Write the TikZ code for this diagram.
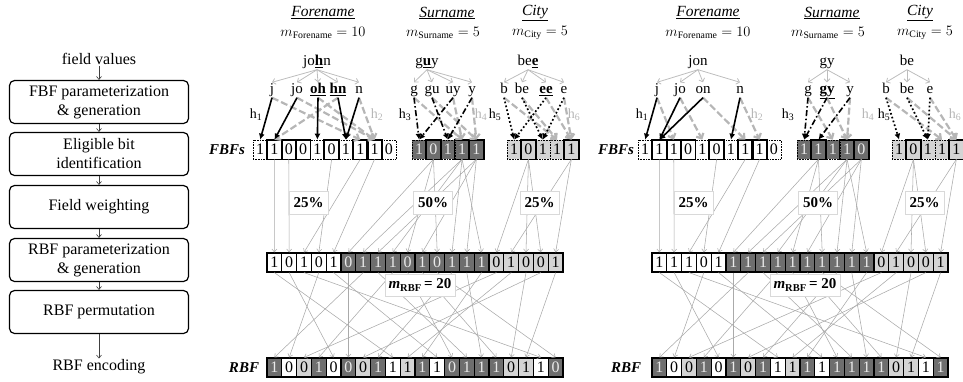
\documentclass[tikz,border=0pt]{standalone}
\usepackage{fontspec}
\setmainfont{Liberation Serif}
\usetikzlibrary{arrows.meta}
\newcommand\fsz[2]{\fontsize{#1}{#2}\selectfont}
\definecolor{cdark}{HTML}{6E6E6E}
\definecolor{clight}{HTML}{D4D4D4}
\definecolor{ctxt}{HTML}{EAEAEA}
\definecolor{cline}{HTML}{AAAAAA}
\definecolor{ctree}{HTML}{BDBDBD}
\definecolor{chash}{HTML}{B6B6B6}

% colour code w / d / l -> fill and text colour
\newcommand\setcc[1]{%
  \if w#1\def\fc{white}\def\tc{black}\fi
  \if d#1\def\fc{cdark}\def\tc{ctxt}\fi
  \if l#1\def\fc{clight}\def\tc{black}\fi}

% field Bloom filter: #1 prefix, #2 left x, #3 fill, #4 text colour, #5 value/thick list
\newcommand\fbfrow[5]{%
  \foreach \vv/\tk [count=\i] in {#5}{%
    \node[cell,dotb,fill=#3,text=#4] (#1\i) at ({#2+14.3*(\i-0.5)},149.5) {\vv};}
  \foreach \vv/\tk [count=\i] in {#5}{%
    \ifnum\tk=1 \draw[thk] (#1\i.south west) rectangle (#1\i.north east);\fi}%
}
% record Bloom filter: #1 prefix, #2 left x, #3 centre y, #4 value/colour-code list
\newcommand\rbfrow[4]{%
  \foreach \vv/\cc [count=\i] in {#4}{%
    \setcc{\cc}%
    \node[cell,minimum width=14.8pt,solb,fill=\fc,text=\tc] (#1\i) at ({#2+14.8*(\i-0.5)},#3) {\vv};}%
}
% rows, field-to-record mapping and permutation: #1 prefix, #2 x offset,
% #3 forename, #4 surname, #5 city, #6 mid row, #7 bottom row
\newcommand\panelrows[7]{%
  \fbfrow{#1f}{#2+253}{white}{black}{#3}
  \fbfrow{#1s}{#2+412}{cdark}{ctxt}{#4}
  \fbfrow{#1c}{#2+507}{clight}{black}{#5}
  \rbfrow{#1m}{#2+267}{262.5}{#6}
  \rbfrow{#1r}{#2+267}{367.5}{#7}
  \foreach \a/\b in {2/1,3/2,8/3,6/4,9/5}
    \draw[mapl] (#1f\a.south) -- (#1m\b.north);
  \foreach \a/\b in {2/6,4/7,5/8,4/9,2/10,5/11,2/12,4/13,5/14,4/15}
    \draw[mapl] (#1s\a.south) -- (#1m\b.north);
  \foreach \a/\b in {2/16,5/17,2/18,2/19,5/20}
    \draw[mapl] (#1c\a.south) -- (#1m\b.north);
  \foreach \a/\b in {1/9,2/5,3/19,4/2,5/12,6/6,7/1,8/14,9/4,10/13,11/16,12/20,13/8,14/15,15/11,16/3,17/10,18/17,19/7,20/18}
    \draw[mapl] (#1m\a.south) -- (#1r\b.north);
  \node[pbox] (#1pa) at ({#2+308.5},202.5) {25\%};
  \node[pbox] (#1pb) at ({#2+433},202.5) {50\%};
  \node[pbox] (#1pc) at ({#2+539.5},202.5) {25\%};
  \node[pbox,minimum width=70pt,minimum height=22pt] (#1pm) at ({#2+420},285)
    {\textit{m}\textsubscript{RBF}\,= 20};
}

\begin{document}
\begin{tikzpicture}[x=1pt,y=-1pt,
  every node/.style={inner sep=1pt},
  fbox/.style={draw,line width=1.2pt,rounded corners=5pt,minimum width=179pt,
    minimum height=43pt,align=center,font=\fsz{16}{19}},
  ftxt/.style={font=\fsz{16}{19}},
  farr/.style={draw=black!75,line width=0.6pt,-{Straight Barb[length=3pt,width=5pt]}},
  hdr/.style={font=\fsz{15.5}{18}\itshape},
  mlab/.style={font=\fsz{14}{17}},
  val/.style={font=\fsz{15}{18},text height=10pt,text depth=3pt},
  bg/.style={font=\fsz{15}{18},text height=10pt,text depth=3pt},
  tree/.style={draw=ctree,line width=0.8pt,-{Straight Barb[length=3pt,width=6pt]}},
  hb/.style={draw=black,line width=1.6pt,-{Latex[length=6pt,width=6pt]}},
  hbd/.style={hb,dash pattern=on 6pt off 2.5pt on 1.5pt off 2.5pt},
  hbt/.style={hb,line width=1.7pt,dash pattern=on 1.7pt off 2.3pt},
  hg/.style={draw=chash,line width=2.2pt,dash pattern=on 7pt off 3pt,
    -{Straight Barb[length=4pt,width=8pt]}},
  hl/.style={font=\fsz{14}{16}},
  hlg/.style={hl,text=chash},
  cell/.style={minimum width=14.3pt,minimum height=19pt,inner sep=0pt,font=\fsz{16}{18}},
  dotb/.style={draw=black,line width=0.6pt,densely dotted},
  solb/.style={draw=black,line width=1.2pt},
  thk/.style={draw=black,line width=1.6pt},
  mapl/.style={draw=cline,line width=0.55pt,-{Straight Barb[length=3pt,width=5pt]}},
  pbox/.style={draw=black!15,fill=white,line width=0.6pt,inner sep=0pt,
    minimum width=39pt,minimum height=23pt,font=\fsz{15}{18}\bfseries},
  blab/.style={font=\fsz{15}{18}\bfseries\itshape}]
\useasboundingbox (0,0) rectangle (963,381);

% ---------------- process flow ----------------
\node[ftxt] (F0) at (99,59) {field values};
\node[fbox] (B1) at (99,102) {FBF parameterization\\\& generation};
\node[fbox] (B2) at (99,154) {Eligible bit\\identification};
\node[fbox] (B3) at (99,207) {Field weighting};
\node[fbox] (B4) at (99,260) {RBF parameterization\\\& generation};
\node[fbox] (B5) at (99,312) {RBF permutation};
\node[ftxt] (F6) at (99,367) {RBF encoding};
\draw[farr] (F0) -- (B1);
\draw[farr] (B1) -- (B2);
\draw[farr] (B2) -- (B3);
\draw[farr] (B3) -- (B4);
\draw[farr] (B4) -- (B5);
\draw[farr] (B5) -- (F6);

% ---------------- first record ----------------
\node[hdr] (Lhf) at (323,13) {\underline{Forename}};
\node[mlab] (Lmf) at (323,33) {$m_{\mathrm{Forename}}=10$};
\node[hdr] (Lhs) at (447,13) {\underline{Surname}};
\node[mlab] (Lms) at (443,33) {$m_{\mathrm{Surname}}=5$};
\node[hdr] (Lhc) at (535,13) {\underline{City}};
\node[mlab] (Lmc) at (540,33) {$m_{\mathrm{City}}=5$};

\node[val] (Lvf) at (317,62) {jo\underline{\textbf{h}}n};
\node[val] (Lvs) at (427,62) {g\underline{\textbf{u}}y};
\node[val] (Lvc) at (528,62) {be\underline{\textbf{e}}};

\node[bg] (Lgf1) at (272,90) {j};
\node[bg] (Lgf2) at (297,90) {jo};
\node[bg] (Lgf3) at (318,90) {\underline{\textbf{oh}}};
\node[bg] (Lgf4) at (338,90) {\underline{\textbf{hn}}};
\node[bg] (Lgf5) at (359,90) {n};
\node[bg] (Lgs1) at (414,90) {g};
\node[bg] (Lgs2) at (432,90) {gu};
\node[bg] (Lgs3) at (453,90) {uy};
\node[bg] (Lgs4) at (472,90) {y};
\node[bg] (Lgc1) at (504,90) {b};
\node[bg] (Lgc2) at (522,90) {be};
\node[bg] (Lgc3) at (546,90) {\underline{\textbf{ee}}};
\node[bg] (Lgc4) at (564,90) {e};

\foreach \k in {1,...,5} \draw[tree] (Lvf.south) -- (Lgf\k.north);
\foreach \k in {1,...,4} \draw[tree] (Lvs.south) -- (Lgs\k.north);
\foreach \k in {1,...,4} \draw[tree] (Lvc.south) -- (Lgc\k.north);

\node[hl] (Lh1) at (256,115) {h\textsubscript{1}};
\node[hlg] (Lh2) at (377,115) {h\textsubscript{2}};
\node[hl] (Lh3) at (405,115) {h\textsubscript{3}};
\node[hlg] (Lh4) at (481,115) {h\textsubscript{4}};
\node[hl] (Lh5) at (495,115) {h\textsubscript{5}};
\node[hlg] (Lh6) at (574,115) {h\textsubscript{6}};

\panelrows{L}{0}
  {1/0,1/1,0/1,0/1,1/0,0/1,1/0,1/1,1/1,0/0}
  {1/0,0/1,1/0,1/1,1/1}
  {1/0,0/1,1/0,1/0,1/1}
  {1/w,0/w,1/w,0/w,1/w,0/d,1/d,1/d,1/d,0/d,1/d,0/d,1/d,1/d,1/d,0/l,1/l,0/l,0/l,1/l}
  {1/d,0/w,0/l,1/d,0/w,0/d,0/l,1/d,1/w,1/l,1/d,1/w,0/d,1/d,1/d,1/d,0/l,1/l,1/w,0/d}

% hashing of the bigrams into the field filters
\foreach \a/\b in {1/8,2/9,3/9,4/2,5/9} \draw[hg] (Lgf\a.south) -- (Lf\b.north);
\foreach \a/\b in {1/4,2/5,3/4,4/5} \draw[hg] (Lgs\a.south) -- (Ls\b.north);
\foreach \a/\b in {1/4,2/4,3/5,4/5} \draw[hg] (Lgc\a.south) -- (Lc\b.north);
\foreach \a/\b in {1/1,2/2,3/5,4/7,5/7} \draw[hb] (Lgf\a.south) -- (Lf\b.north);
\foreach \a/\b in {1/1,2/3,3/1,4/3} \draw[hbd] (Lgs\a.south) -- (Ls\b.north);
\foreach \a/\b in {1/1,2/3,3/1,4/3} \draw[hbt] (Lgc\a.south) -- (Lc\b.north);

\node[blab] (LFB) at (227,150) {FBFs};
\node[blab] (LRB) at (244,368) {RBF};

% ---------------- second record ----------------
\node[hdr] (Rhf) at (708,13) {\underline{Forename}};
\node[mlab] (Rmf) at (708,33) {$m_{\mathrm{Forename}}=10$};
\node[hdr] (Rhs) at (832,13) {\underline{Surname}};
\node[mlab] (Rms) at (828,33) {$m_{\mathrm{Surname}}=5$};
\node[hdr] (Rhc) at (920,13) {\underline{City}};
\node[mlab] (Rmc) at (925,33) {$m_{\mathrm{City}}=5$};

\node[val] (Rvf) at (698,62) {jon};
\node[val] (Rvs) at (827,62) {gy};
\node[val] (Rvc) at (907,62) {be};

\node[bg] (Rgf1) at (657,90) {j};
\node[bg] (Rgf2) at (680,90) {jo};
\node[bg] (Rgf3) at (703,90) {on};
\node[bg] (Rgf4) at (740,90) {n};
\node[bg] (Rgs1) at (808,90) {g};
\node[bg] (Rgs2) at (827,90) {\underline{\textbf{gy}}};
\node[bg] (Rgs3) at (850,90) {y};
\node[bg] (Rgc1) at (886,90) {b};
\node[bg] (Rgc2) at (907,90) {be};
\node[bg] (Rgc3) at (930,90) {e};

\foreach \k in {1,...,4} \draw[tree] (Rvf.south) -- (Rgf\k.north);
\foreach \k in {1,...,3} \draw[tree] (Rvs.south) -- (Rgs\k.north);
\foreach \k in {1,...,3} \draw[tree] (Rvc.south) -- (Rgc\k.north);

\node[hl] (Rh1) at (642,115) {h\textsubscript{1}};
\node[hlg] (Rh2) at (757,115) {h\textsubscript{2}};
\node[hl] (Rh3) at (788,115) {h\textsubscript{3}};
\node[hlg] (Rh4) at (868,115) {h\textsubscript{4}};
\node[hl] (Rh5) at (884,115) {h\textsubscript{5}};
\node[hlg] (Rh6) at (955,115) {h\textsubscript{6}};

\panelrows{R}{385}
  {1/0,1/1,1/1,0/1,1/0,0/1,1/0,1/1,1/1,0/0}
  {1/0,1/1,1/0,1/1,0/1}
  {1/0,0/1,1/0,1/0,1/1}
  {1/w,1/w,1/w,0/w,1/w,1/d,1/d,1/d,1/d,1/d,1/d,1/d,1/d,1/d,1/d,0/l,1/l,0/l,0/l,1/l}
  {1/d,0/w,0/l,1/d,0/w,1/d,0/l,1/d,1/w,1/l,1/d,1/w,1/d,1/d,1/d,1/d,0/l,1/l,1/w,1/d}

\foreach \a/\b in {1/3,2/5,3/8,4/9} \draw[hg] (Rgf\a.south) -- (Rf\b.north);
\foreach \a/\b in {1/3,2/4,3/4} \draw[hg] (Rgs\a.south) -- (Rs\b.north);
\foreach \a/\b in {1/4,2/5,3/5} \draw[hg] (Rgc\a.south) -- (Rc\b.north);
\foreach \a/\b in {1/1,2/2,3/2,4/7} \draw[hb] (Rgf\a.south) -- (Rf\b.north);
\foreach \a/\b in {1/1,2/1,3/2} \draw[hbd] (Rgs\a.south) -- (Rs\b.north);
\foreach \a/\b in {1/1,2/3,3/3} \draw[hbt] (Rgc\a.south) -- (Rc\b.north);

\node[blab] (RFB) at (616,150) {FBFs};
\node[blab] (RRB) at (626,368) {RBF};
\end{tikzpicture}
\end{document}
